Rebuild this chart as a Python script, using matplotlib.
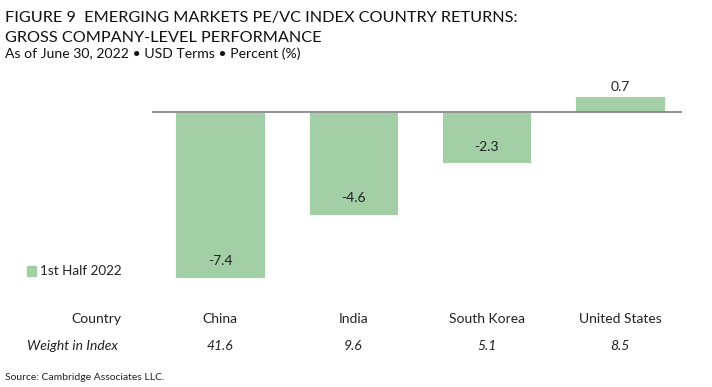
import matplotlib.pyplot as plt

countries = ["China", "India", "South Korea", "United States"]
returns = [-7.4, -4.6, -2.3, 0.7]
weights = [41.6, 9.6, 5.1, 8.5]
series_name = "1st Half 2022"

bar_color = "#a2cfa5"
W, H = 712, 387

plt.rcParams["font.family"] = ["Lato", "DejaVu Sans"]
fig = plt.figure(figsize=(W / 100, H / 100), dpi=100)

# axes placed in pixel terms: x 152..682, y 75..290
ax = fig.add_axes([152 / W, (H - 290) / H, 530 / W, 215 / H])
x = range(len(countries))
bars = ax.bar(x, returns, width=0.67, color=bar_color, edgecolor="white", linewidth=0.6)
ax.axhline(0, color="#808080", linewidth=1.2, zorder=3)
ax.set_xlim(-0.51, 3.465)
ax.set_ylim(-7.95, 1.65)
ax.axis("off")

for xi, v in zip(x, returns):
    if v < 0:
        ax.annotate(f"{v:.1f}", (xi, v), xytext=(0, 12), textcoords="offset points",
                    ha="center", va="center", fontsize=10, color="#222222")
    else:
        ax.annotate(f"{v:.1f}", (xi, v), xytext=(0, 7), textcoords="offset points",
                    ha="center", va="center", fontsize=10, color="#222222")

def fx(px):
    return px / W

def fy(py):
    return 1 - py / H

# titles
fig.text(fx(5), fy(22), "FIGURE 9  EMERGING MARKETS PE/VC INDEX COUNTRY RETURNS:",
         fontsize=11.7, va="baseline", color="#111111")
fig.text(fx(5), fy(42), "GROSS COMPANY-LEVEL PERFORMANCE",
         fontsize=11.7, va="baseline", color="#111111")
fig.text(fx(5), fy(58), "As of June 30, 2022 \u2022 USD Terms \u2022 Percent (%)",
         fontsize=10.1, va="baseline", color="#111111")

# legend
fig.patches.append(plt.Rectangle((fx(27), fy(276)), 9 / W, 10 / H, color=bar_color,
                                 transform=fig.transFigure))
fig.text(fx(40), fy(271), series_name, fontsize=9.7, va="center", color="#222222")

# table rows under bars
fig.text(fx(121), fy(319), "Country", fontsize=10, ha="right", va="center", color="#222222")
fig.text(fx(118), fy(346), "Weight in Index", fontsize=10, style="italic",
         ha="right", va="center", color="#222222")
for xi, c, w in zip(x, countries, weights):
    px = ax.transData.transform((xi, 0))[0]
    xf = fig.transFigure.inverted().transform((px, 0))[0]
    fig.text(xf, fy(319), c, fontsize=10, ha="center", va="center", color="#222222")
    fig.text(xf, fy(346), f"{w:.1f}", fontsize=10, style="italic",
             ha="center", va="center", color="#222222")

fig.text(fx(5), fy(378), "Source: Cambridge Associates LLC.", fontsize=7.5,
         va="center", color="#222222")

fig.savefig("out.png", dpi=100)
